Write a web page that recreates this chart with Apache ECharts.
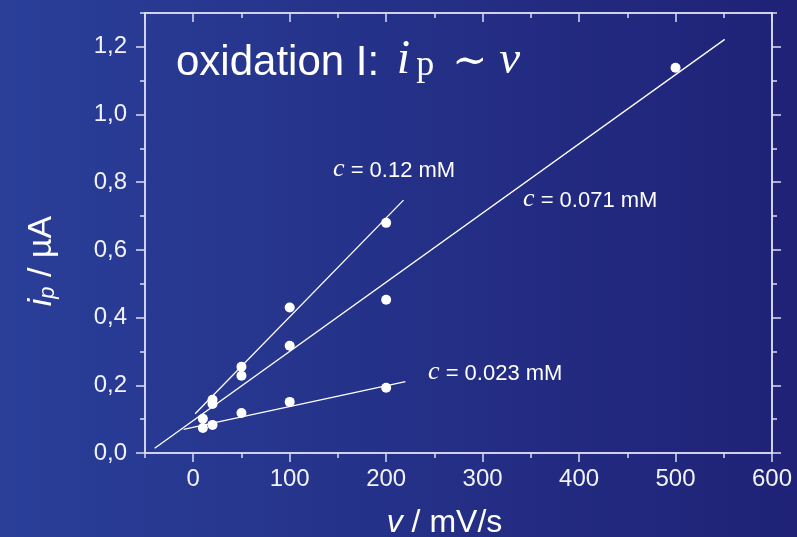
<!DOCTYPE html>
<html>
<head>
<meta charset="utf-8">
<script src="https://cdn.jsdelivr.net/npm/echarts@6/dist/echarts.min.js"></script>
<style>
	html, body { margin: 0; padding: 0; }
	#main { width: 797px; height: 537px; }
</style>
</head>
<body>
<div id="main"></div>
<script>
// measured points (v in mV/s, ip in µA)
var v012 = [20, 50, 100, 200];
var ip012 = [0.157, 0.255, 0.43, 0.68];
var v071 = [10, 20, 50, 100, 200, 500];
var ip071 = [0.101, 0.145, 0.228, 0.317, 0.453, 1.138];
var v023 = [10, 20, 50, 100, 200];
var ip023 = [0.074, 0.083, 0.118, 0.151, 0.193];

// linear fits, end points
var fitV012 = [2, 218];
var fitIp012 = [0.116, 0.747];
var fitV071 = [-40, 551];
var fitIp071 = [0.014, 1.222];
var fitV023 = [-10, 220];
var fitIp023 = [0.070, 0.211];

// ticks
var xMajor = [0, 100, 200, 300, 400, 500, 600];
var xMinor = [-50, 50, 150, 250, 350, 450, 550];
var yMajor = [0, 0.2, 0.4, 0.6, 0.8, 1.0, 1.2];
var yMinor = [0.1, 0.3, 0.5, 0.7, 0.9, 1.1, 1.3];

function pairs(xs, ys) {
	return xs.map(function(x, i) { return [x, ys[i]]; });
}

var chart = echarts.init(document.getElementById('main'));

var axisColor = '#dcdcf0';
var sans = 'Liberation Sans, Arial, sans-serif';
var serif = 'Liberation Serif, Times New Roman, serif';

function xAx(pos, ticks, len, inside, labels, extra) {
	var a = {
		type: 'value',
		position: pos,
		min: -50,
		max: 600,
		splitLine: { show: false },
		axisLine: { show: true, onZero: false, lineStyle: { color: axisColor, width: 1.5 } },
		axisTick: { show: true, inside: inside, length: len, customValues: ticks, lineStyle: { color: axisColor, width: 1.5 } },
		axisLabel: labels ? {
			show: true, customValues: xMajor, margin: 14,
			color: '#f2f2fa', fontSize: 24, fontFamily: sans
		} : { show: false }
	};
	return Object.assign(a, extra || {});
}

function yAx(pos, ticks, len, inside, labels, extra) {
	var a = {
		type: 'value',
		position: pos,
		min: 0,
		max: 1.3,
		splitLine: { show: false },
		axisLine: { show: true, onZero: false, lineStyle: { color: axisColor, width: 1.5 } },
		axisTick: { show: true, inside: inside, length: len, customValues: ticks, lineStyle: { color: axisColor, width: 1.5 } },
		axisLabel: labels ? {
			show: true, customValues: yMajor, margin: 18,
			color: '#f2f2fa', fontSize: 24, fontFamily: sans,
			formatter: function(v) { return v.toFixed(1).replace('.', ','); }
		} : { show: false }
	};
	return Object.assign(a, extra || {});
}

// c = ... mM Beschriftung
function concLabel(txt, left, top) {
	return {
		type: 'text',
		left: left,
		top: top,
		style: {
			text: '{c|c}{t| = ' + txt + '}',
			fill: '#fff',
			rich: {
				c: { fontSize: 26, fontFamily: serif, fontStyle: 'italic', fill: '#fff', lineHeight: 28, verticalAlign: 'bottom' },
				t: { fontSize: 22, fontFamily: sans, fill: '#fff', lineHeight: 28, verticalAlign: 'bottom' }
			}
		}
	};
}

var lineStyleFit = { color: '#ffffff', width: 1.3 };
var dotStyle = { color: '#ffffff', opacity: 1 };

var option = {
	animation: false,
	grid: { left: 145, right: 25, top: 13, bottom: 84, outerBoundsMode: 'none' },
	graphic: [{
		type: 'rect',
		z: -10,
		silent: true,
		shape: { x: 0, y: 0, width: 797, height: 537 },
		style: {
			fill: new echarts.graphic.LinearGradient(0, 0, 1, 0, [
				{ offset: 0, color: '#2a3f99' },
				{ offset: 1, color: '#1f2276' }
			])
		}
	}, {
		// titel
		type: 'text',
		left: 176,
		top: 36,
		style: {
			text: '{s|oxidation I: }{m|i}{sub|p}{r|∼}{v|v}',
			fill: '#ffffff',
			rich: {
				s: { fontSize: 42, fontFamily: sans, fill: '#fff', lineHeight: 50, verticalAlign: 'bottom' },
				m: { fontSize: 48, fontFamily: serif, fontStyle: 'italic', fill: '#fff', lineHeight: 50, verticalAlign: 'bottom', padding: [0, 0, 0, 6] },
				sub: { fontSize: 36, fontFamily: serif, fill: '#fff', lineHeight: 32, verticalAlign: 'bottom', padding: [0, 0, 0, 6] },
				r: { fontSize: 42, fontFamily: 'DejaVu Serif, serif', fill: '#fff', lineHeight: 50, verticalAlign: 'bottom', padding: [0, 12, 0, 18] },
				v: { fontSize: 47, fontFamily: serif, fontStyle: 'italic', fill: '#fff', lineHeight: 50, verticalAlign: 'bottom' }
			}
		}
	},
		concLabel('0.12 mM', 333, 156),
		concLabel('0.071 mM', 523, 186),
		concLabel('0.023 mM', 428, 359)
	],
	xAxis: [
		xAx('bottom', xMajor, 9, false, true, {
			name: '{v|v}{t| / mV/s}',
			nameLocation: 'middle',
			nameGap: 54,
			nameTextStyle: {
				padding: [0, 28, 0, 0],
				rich: {
					v: { fontSize: 32, fontFamily: sans, fontStyle: 'italic', color: '#fff' },
					t: { fontSize: 32, fontFamily: sans, color: '#fff' }
				}
			}
		}),
		xAx('bottom', xMinor, 5, false, false),
		xAx('top', xMajor, 9, true, false),
		xAx('top', xMinor, 5, true, false)
	],
	yAxis: [
		yAx('left', yMajor, 9, false, true, {
			name: '{i|i}{p|p}{t| / µA}',
			nameLocation: 'middle',
			nameRotate: 90,
			nameGap: 86,
			nameTextStyle: {
				padding: [0, 56, 0, 0],
				rich: {
					i: { fontSize: 34, fontFamily: sans, fontStyle: 'italic', color: '#fff', lineHeight: 40, verticalAlign: 'bottom' },
					p: { fontSize: 22, fontFamily: sans, fontStyle: 'italic', color: '#fff', lineHeight: 22, verticalAlign: 'bottom' },
					t: { fontSize: 34, fontFamily: sans, color: '#fff', lineHeight: 40, verticalAlign: 'bottom' }
				}
			}
		}),
		yAx('left', yMinor, 5, false, false),
		yAx('right', yMajor, 9, false, false),
		yAx('right', yMinor, 5, false, false)
	],
	series: [{
		name: 'fit 0.12',
		type: 'line',
		data: pairs(fitV012, fitIp012),
		symbol: 'none',
		lineStyle: lineStyleFit
	}, {
		name: 'fit 0.071',
		type: 'line',
		data: pairs(fitV071, fitIp071),
		symbol: 'none',
		lineStyle: lineStyleFit
	}, {
		name: 'fit 0.023',
		type: 'line',
		data: pairs(fitV023, fitIp023),
		symbol: 'none',
		lineStyle: lineStyleFit
	}, {
		name: 'c = 0.12 mM',
		type: 'scatter',
		data: pairs(v012, ip012),
		symbolSize: 10,
		itemStyle: dotStyle
	}, {
		name: 'c = 0.071 mM',
		type: 'scatter',
		data: pairs(v071, ip071),
		symbolSize: 10,
		itemStyle: dotStyle
	}, {
		name: 'c = 0.023 mM',
		type: 'scatter',
		data: pairs(v023, ip023),
		symbolSize: 10,
		itemStyle: dotStyle
	}]
};

chart.setOption(option);
</script>
</body>
</html>
